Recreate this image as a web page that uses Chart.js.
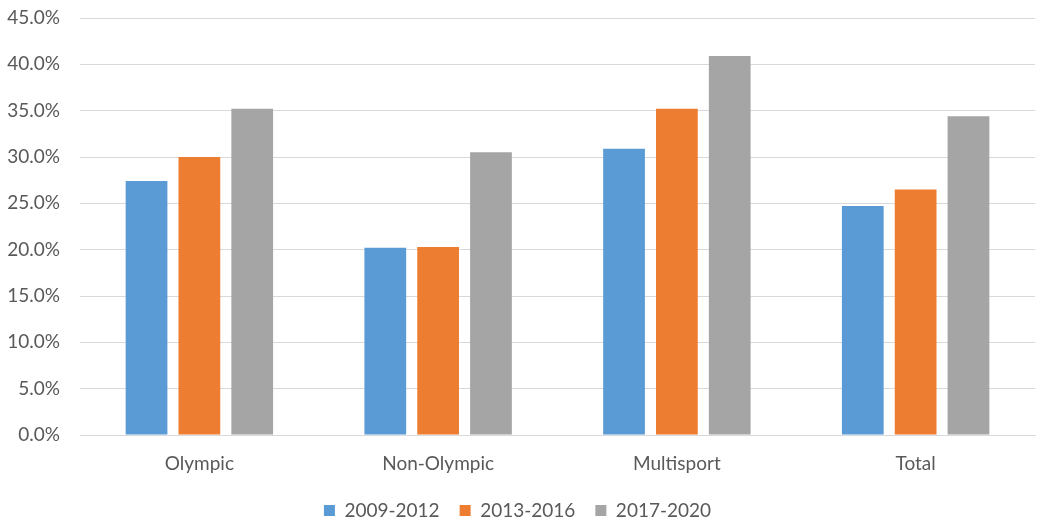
<!DOCTYPE html>
<html>
<head>
<meta charset="utf-8">
<script src="https://cdn.jsdelivr.net/npm/chart.js@4/dist/chart.umd.min.js"></script>
<style>
  html, body { margin: 0; padding: 0; background: #fff; }
  #wrap { width: 1039px; height: 521px; }
</style>
</head>
<body>
<div id="wrap"><canvas id="chart"></canvas></div>
<script>
// categories and series
const categories = ["Olympic", "Non-Olympic", "Multisport", "Total"];
const seriesLabels = ["2009-2012", "2013-2016", "2017-2020"];
const values2009 = [27.4, 20.2, 30.9, 24.7];
const values2013 = [30.0, 20.3, 35.2, 26.5];
const values2017 = [35.2, 30.5, 40.9, 34.4];
const seriesColors = ["#5b9bd5", "#ed7d31", "#a5a5a5"];

const FONT = "Lato, 'Open Sans', sans-serif";
const TEXT = "#595959";

const datasets = [values2009, values2013, values2017].map((data, i) => ({
  label: seriesLabels[i],
  data: data,
  backgroundColor: seriesColors[i],
  borderWidth: 0,
  barPercentage: 0.79,
  categoryPercentage: 0.664,
}));

new Chart(document.getElementById("chart"), {
  type: "bar",
  data: { labels: categories, datasets: datasets },
  options: {
    responsive: true,
    maintainAspectRatio: false,
    animation: false,
    layout: { padding: { top: 18, right: 4, left: 0, bottom: 0 } },
    plugins: {
      tooltip: { enabled: false },
      legend: {
        position: "bottom",
        maxHeight: 40,
        labels: {
          boxWidth: 11,
          boxHeight: 11,
          padding: 20,
          color: TEXT,
          font: { family: FONT, size: 19 },
        },
      },
    },
    scales: {
      x: {
        afterFit: (axis) => { axis.height = 46; },
        grid: { display: false, drawTicks: false },
        border: { color: "#d9d9d9" },
        ticks: {
          color: TEXT,
          padding: 17,
          font: { family: FONT, size: 19 },
        },
      },
      y: {
        min: 0,
        max: 45,
        afterFit: (axis) => { axis.width = 80; },
        // ticks kept but invisible so the labels sit away from the plot
        grid: { color: "#d9d9d9", tickColor: "transparent", tickLength: 17 },
        border: { display: false },
        ticks: {
          stepSize: 5,
          padding: 3,
          color: TEXT,
          font: { family: FONT, size: 19 },
          callback: (v) => v.toFixed(1) + "%",
        },
      },
    },
  },
});
</script>
</body>
</html>
